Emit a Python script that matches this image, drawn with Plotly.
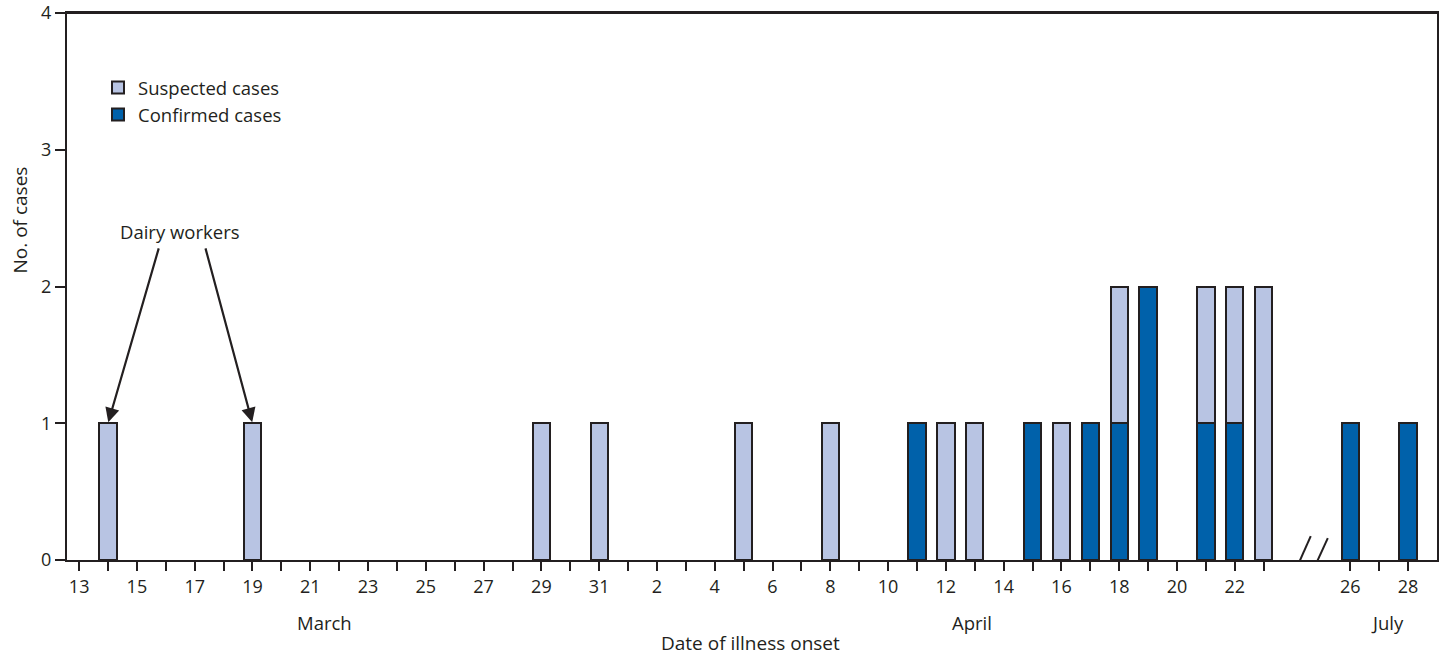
import plotly.graph_objects as go

# ---- data ----
months = ["Mar", "Mar", "Mar", "Mar", "Apr", "Apr", "Apr", "Apr", "Apr", "Apr",
          "Apr", "Apr", "Apr", "Apr", "Apr", "Apr", "Apr", "Jul", "Jul"]
days = [14, 19, 29, 31, 5, 8, 11, 12, 13, 15, 16, 17, 18, 19, 21, 22, 23, 26, 28]
confirmed = [0, 0, 0, 0, 0, 0, 1, 0, 0, 1, 0, 1, 1, 2, 1, 1, 0, 1, 1]
suspected = [1, 1, 1, 1, 1, 1, 0, 1, 1, 0, 1, 0, 1, 0, 1, 1, 2, 0, 0]

tick_months = ["Mar"] * 19 + ["Apr"] * 23 + ["Jul"] * 3
tick_days = list(range(13, 32)) + list(range(1, 24)) + [26, 27, 28]
labeled_days = {"Mar": [13, 15, 17, 19, 21, 23, 25, 27, 29, 31],
                "Apr": [2, 4, 6, 8, 10, 12, 14, 16, 18, 20, 22],
                "Jul": [26, 28]}
month_names = {"Mar": "March", "Apr": "April", "Jul": "July"}

# slot on a day-based axis (axis break between April 23 and July 26)
offset = {"Mar": -13, "Apr": 18, "Jul": 18}
def slot(m, d):
    return d + offset[m]

x = [slot(m, d) for m, d in zip(months, days)]
tickvals = [slot(m, d) for m, d in zip(tick_months, tick_days)]
ticktext = [str(d) if d in labeled_days[m] else "" for m, d in zip(tick_months, tick_days)]

DARK = "#231f20"
LIGHT = "#b8c4e3"
BLUE = "#0061aa"
FONT = "Open Sans"

L, R, T, B = 67, 1437, 13, 560   # plot area in page pixels

fig = go.Figure()
fig.add_trace(go.Bar(
    x=x, y=[v if v else None for v in confirmed], name="Confirmed cases",
    marker=dict(color=BLUE, line=dict(color=DARK, width=2)), width=0.6))
fig.add_trace(go.Bar(
    x=x, y=[v if v else None for v in suspected], name="Suspected cases",
    marker=dict(color=LIGHT, line=dict(color=DARK, width=2)), width=0.6))

X0, X1 = -0.42, 47.0
W = R - L
H = B - T
fig.update_layout(
    barmode="stack",
    width=1445, height=658,
    margin=dict(l=L, r=1445 - R, t=T, b=658 - B, autoexpand=False),
    plot_bgcolor="white", paper_bgcolor="white",
    font=dict(family=FONT, size=18, color=DARK),
    showlegend=True,
    legend=dict(x=(98 - L) / W, y=(B - 69) / H, xanchor="left", yanchor="top",
                traceorder="reversed", font=dict(size=18.5, color=DARK),
                bgcolor="rgba(0,0,0,0)", itemwidth=30, tracegroupgap=0),
    xaxis=dict(range=[X0, X1], tickmode="array", tickvals=tickvals, ticktext=ticktext,
               ticks="outside", ticklen=9, tickwidth=2, tickcolor=DARK, automargin=False,
               showline=True, linecolor=DARK, linewidth=2, mirror=True,
               ticklabeloverflow="allow",
               showgrid=False, zeroline=False, tickfont=dict(size=18, color=DARK)),
    yaxis=dict(range=[0, 4], tickvals=[0, 1, 2, 3, 4], automargin=False,
               ticks="outside", ticklen=10, tickwidth=2, tickcolor=DARK,
               showline=True, linecolor=DARK, linewidth=2, mirror=True,
               ticklabeloverflow="allow",
               showgrid=False, zeroline=False, tickfont=dict(size=18, color=DARK)),
)

# top frame line (explicit)
fig.add_shape(type="line", xref="paper", yref="paper", x0=0, x1=1, y0=1, y1=1,
              line=dict(color=DARK, width=2))

# separators below the axis (month boundaries)
yb = -0.475
for xv, ref in [(0, "paper"), (18.5, "x"), (43.5, "x"), (1, "paper")]:
    fig.add_shape(type="line", xref=ref, yref="y", x0=xv, x1=xv, y0=0, y1=yb,
                  line=dict(color=DARK, width=2))

# axis break slashes
for (xa, ya, xb, yb2) in [(42.0, -0.125, 42.63, 0.175), (42.56, -0.145, 43.22, 0.16)]:
    fig.add_shape(type="line", xref="x", yref="y", x0=xa, y0=ya, x1=xb, y1=yb2,
                  line=dict(color=DARK, width=2))

# month labels
for m, xc in [("Mar", 8.5), ("Apr", 30.9), ("Jul", 45.3)]:
    fig.add_annotation(x=xc, y=-(623 - B) / H, xref="x", yref="paper", text=month_names[m],
                       showarrow=False, font=dict(size=18.5, color=DARK), yanchor="middle")

fig.add_annotation(x=(750 - L) / W, y=-(643 - B) / H, xref="paper", yref="paper",
                   text="Date of illness onset", showarrow=False,
                   font=dict(size=19, color=DARK), yanchor="middle")
fig.add_annotation(x=-(L - 19.5) / W, y=(B - 220) / H, xref="paper", yref="paper",
                   text="No. of cases", textangle=-90, showarrow=False,
                   font=dict(size=19, color=DARK), xanchor="center", yanchor="middle")

# Dairy workers annotation with arrows
fig.add_annotation(x=3.5, y=2.4, xref="x", yref="y", text="Dairy workers",
                   showarrow=False, font=dict(size=18.5, color=DARK), yanchor="middle")
for hx, tx in [(slot("Mar", 14), 2.77), (slot("Mar", 19), 4.36)]:
    fig.add_annotation(x=hx, y=1.0, xref="x", yref="y", ax=tx, ay=2.29,
                       axref="x", ayref="y", text="", showarrow=True,
                       arrowhead=2, arrowsize=1.3, arrowwidth=2.2, arrowcolor=DARK, standoff=1)

# remove the browser's default 8px body margin so the figure fills the window exactly
fig.write_html("out.html", config={"displayModeBar": False},
               post_script="document.body.style.margin='0px';")
